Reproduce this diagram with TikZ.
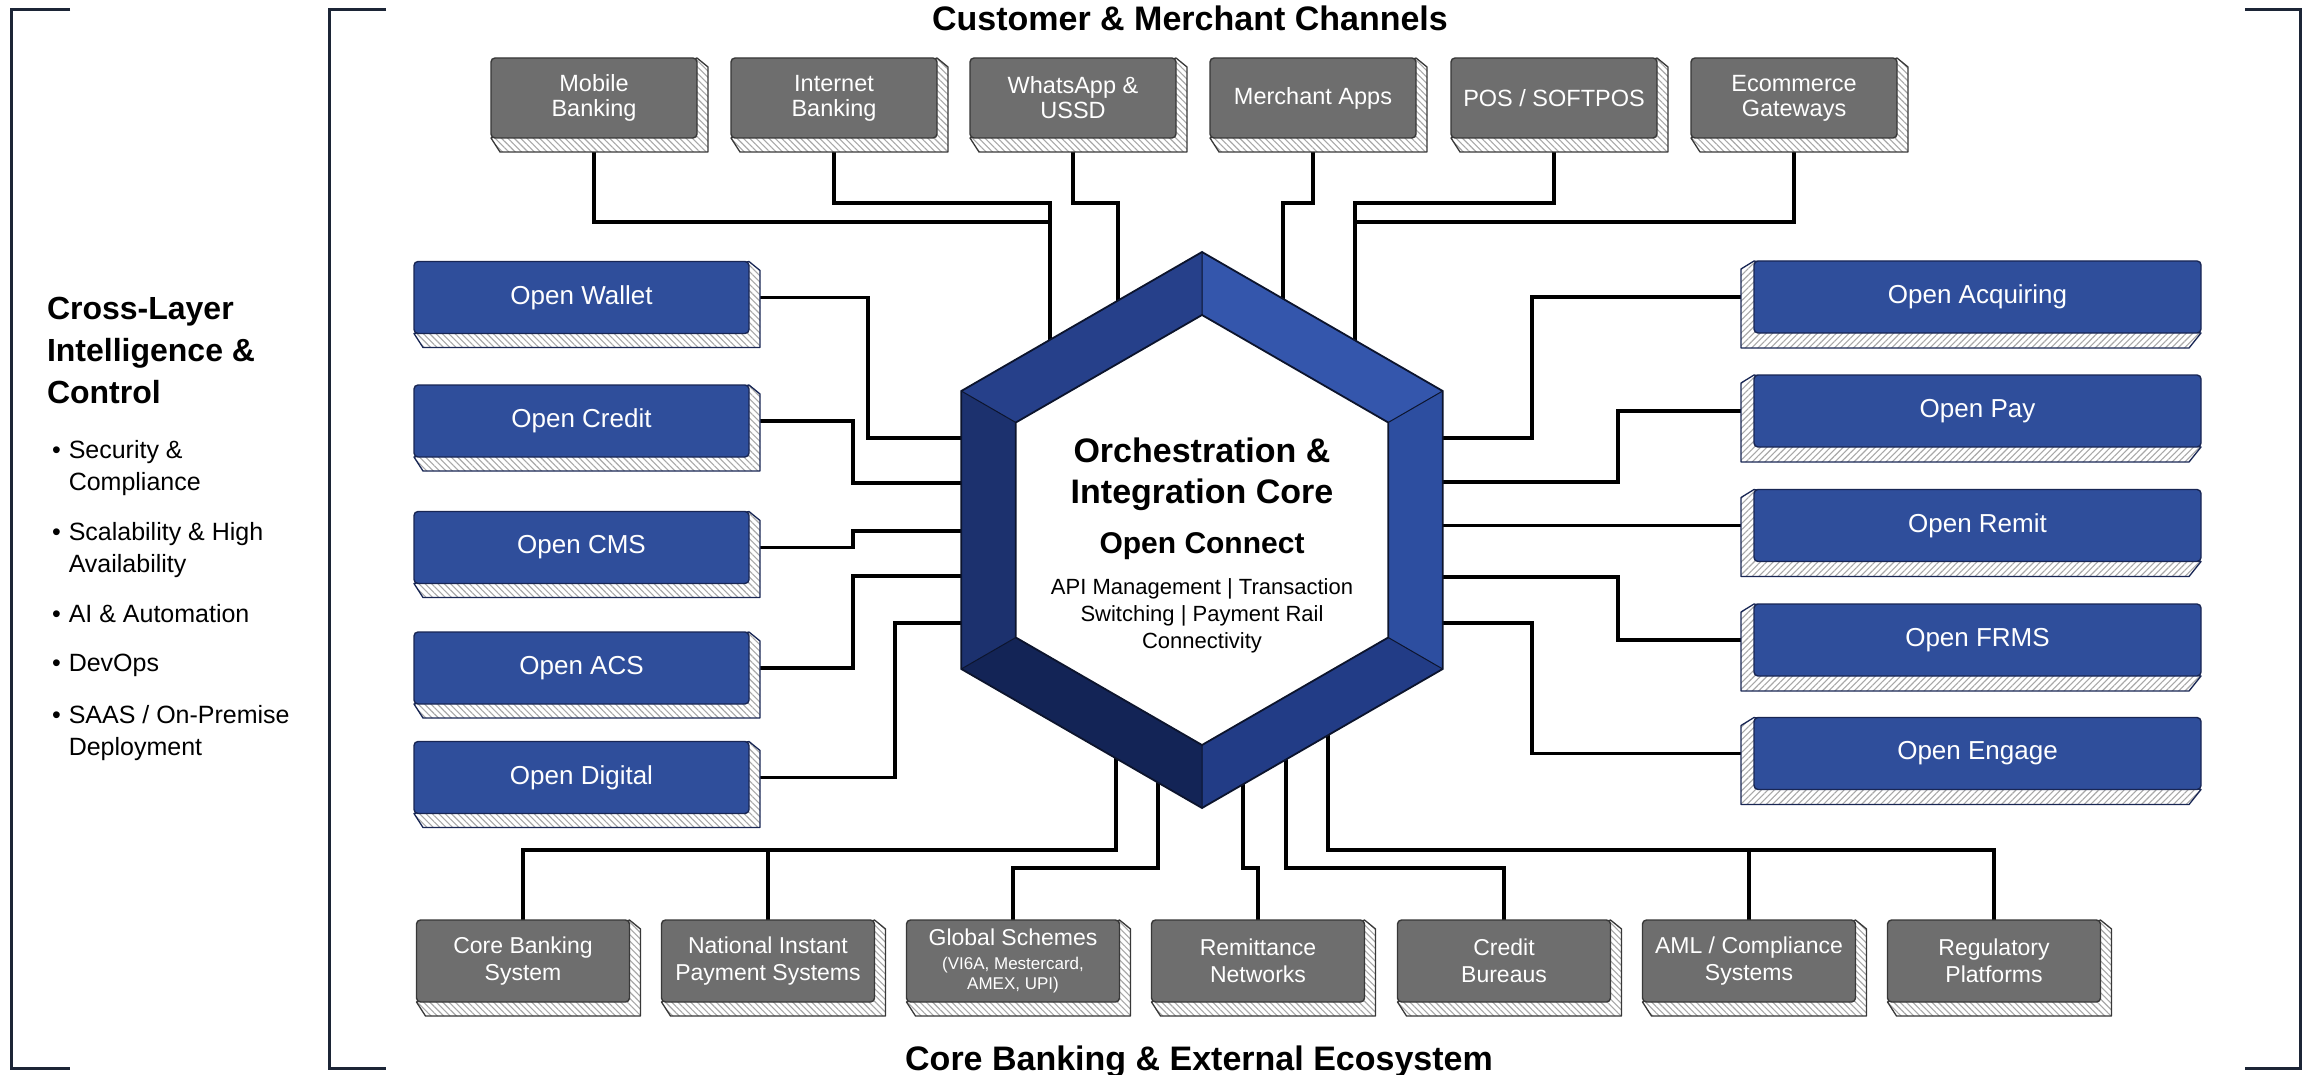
\documentclass[tikz,border=0pt]{standalone}
\usepackage{fontspec}
\setmainfont{Liberation Sans}
\usetikzlibrary{patterns.meta,calc}
\pgfdeclarelayer{paper}\pgfdeclarelayer{lines}\pgfdeclarelayer{bg}
\pgfsetlayers{paper,lines,bg,main}
\definecolor{boxgray}{HTML}{6E6E6E}
\definecolor{grayedge}{HTML}{383838}
\definecolor{boxblue}{RGB}{47,78,155}
\definecolor{blueedge}{RGB}{24,38,84}
\definecolor{hatchc}{HTML}{A8A8A8}
\definecolor{brkc}{HTML}{1C2536}
\definecolor{hexTL}{RGB}{38,64,138}
\definecolor{hexTR}{RGB}{52,86,172}
\definecolor{hexR}{RGB}{45,78,160}
\definecolor{hexBR}{RGB}{34,60,134}
\definecolor{hexBL}{RGB}{19,36,86}
\definecolor{hexL}{RGB}{28,49,110}
\definecolor{hexedge}{RGB}{12,20,45}
\tikzset{
  every node/.style={inner sep=0pt,outer sep=0pt},
  graybox/.style={draw=grayedge,line width=1.4pt,fill=boxgray,rounded corners=4pt,text=white,align=center},
  topbox/.style={graybox,minimum width=206pt,minimum height=80pt,font=\fontsize{23.5}{25}\selectfont},
  botbox/.style={graybox,minimum width=213pt,minimum height=82pt,font=\fontsize{23}{27}\selectfont},
  bluebox/.style={draw=blueedge,line width=1.4pt,fill=boxblue,rounded corners=4pt,text=white,minimum height=72pt,font=\fontsize{26}{30}\selectfont},
  lbox/.style={bluebox,minimum width=335pt},
  rbox/.style={bluebox,minimum width=447pt},
  extr/.style={preaction={fill=white},pattern={Lines[angle=-45,distance=4.5pt,line width=1.1pt]},pattern color=hatchc,line width=1.3pt,line join=round},
  extl/.style={preaction={fill=white},pattern={Lines[angle=45,distance=4.5pt,line width=1.1pt]},pattern color=hatchc,line width=1.3pt,line join=round},
  link/.style={draw=black,line width=3.3pt},
  brk/.style={draw=brkc,line width=3pt,line join=miter},
  ttl/.style={font=\bfseries\fontsize{34}{40}\selectfont},
  bul/.style={font=\fontsize{25}{32}\selectfont,align=left,anchor=north west},
  hexline/.style={draw=hexedge,line width=1.8pt,line join=miter}
}
\newcommand\extR[2]{\begin{pgfonlayer}{bg}\draw[extr,draw=#2] (#1.north east) -- ++(11,9) -- ($(#1.south east)+(11,14)$) -- ($(#1.south west)+(9,14)$) -- (#1.south west) -- cycle;\end{pgfonlayer}}
\newcommand\extL[2]{\begin{pgfonlayer}{bg}\draw[extl,draw=#2] (#1.north west) -- ++(-13,8) -- ($(#1.south west)+(-13,15)$) -- ($(#1.south east)+(-12,15)$) -- (#1.south east) -- cycle;\end{pgfonlayer}}
\begin{document}
\begin{tikzpicture}[x=1pt,y=-1pt]
\useasboundingbox (0,0) rectangle (2310,1075);
\begin{pgfonlayer}{paper}\fill[white] (0,0) rectangle (2310,1075);\end{pgfonlayer}

% brackets
\draw[brk] (70,10) -| (11,1068) -- (70,1068);
\draw[brk] (386,10) -| (329,1068) -- (386,1068);
\draw[brk] (2245,10) -| (2300,1068) -- (2245,1068);

% titles
\node[ttl,anchor=base] (ttop) at (1190,31) {Customer \& Merchant Channels};
\node[ttl,anchor=base] (tbot) at (1199,1070) {Core Banking \& External Ecosystem};

% left panel
\node[font=\bfseries\fontsize{32}{42}\selectfont,align=left,anchor=north west] (clic) at (47,297) {Cross-Layer\\Intelligence \&\\Control};
\node[bul] (b1) at (52,440) {•\hspace{8pt}Security \&\\\phantom{•}\hspace{8pt}Compliance};
\node[bul] (b2) at (52,522) {•\hspace{8pt}Scalability \& High\\\phantom{•}\hspace{8pt}Availability};
\node[bul] (b3) at (52,604) {•\hspace{8pt}AI \& Automation};
\node[bul] (b4) at (52,654) {•\hspace{8pt}DevOps};
\node[bul] (b5) at (52,705) {•\hspace{8pt}SAAS / On-Premise\\\phantom{•}\hspace{8pt}Deployment};

% top channel boxes
\node[topbox] (mob) at (594,98) {Mobile\\Banking};
\node[topbox] (inb) at (834,98) {Internet\\Banking};
\node[topbox] (wus) at (1073,98) {WhatsApp \&\\USSD};
\node[topbox] (mer) at (1313,98) {Merchant Apps};
\node[topbox] (pos) at (1554,98) {POS / SOFTPOS};
\node[topbox] (eco) at (1794,98) {Ecommerce\\Gateways};
\foreach \n in {mob,inb,wus,mer,pos,eco} {\extR{\n}{grayedge}}

% left product boxes
\node[lbox] (owal) at (581.5,297.5) {Open Wallet};
\node[lbox] (ocre) at (581.5,421) {Open Credit};
\node[lbox] (ocms) at (581.5,547.5) {Open CMS};
\node[lbox] (oacs) at (581.5,668) {Open ACS};
\node[lbox] (odig) at (581.5,777.5) {Open Digital};
\foreach \n in {owal,ocre,ocms,oacs,odig} {\extR{\n}{blueedge}}

% right product boxes
\node[rbox] (oacq) at (1977.5,297) {Open Acquiring};
\node[rbox] (opay) at (1977.5,411) {Open Pay};
\node[rbox] (orem) at (1977.5,525.5) {Open Remit};
\node[rbox] (ofrm) at (1977.5,640) {Open FRMS};
\node[rbox] (oeng) at (1977.5,753.5) {Open Engage};
\foreach \n in {oacq,opay,orem,ofrm,oeng} {\extL{\n}{blueedge}}

% bottom ecosystem boxes
\node[botbox] (cbs) at (523,961) {Core Banking\\System};
\node[botbox] (nip) at (768,961) {National Instant\\Payment Systems};
\node[botbox] (gsc) at (1013,961) {Global Schemes\\[-3pt]{\fontsize{17}{20}\selectfont (VI6A, Mestercard,}\\[-7pt]{\fontsize{17}{20}\selectfont AMEX, UPI)}};
\node[botbox] (rem) at (1258,961) {Remittance\\Networks};
\node[botbox] (crb) at (1504,961) {Credit\\Bureaus};
\node[botbox] (aml) at (1749,961) {AML / Compliance\\Systems};
\node[botbox] (reg) at (1994,961) {Regulatory\\Platforms};
\foreach \n in {cbs,nip,gsc,rem,crb,aml,reg} {\extR{\n}{grayedge}}

% hexagon core
\coordinate (hc) at (1202,530);
\coordinate (o1) at (1202,252);   \coordinate (o2) at (1442.7,391);
\coordinate (o3) at (1442.7,669); \coordinate (o4) at (1202,808);
\coordinate (o5) at (961.3,669);  \coordinate (o6) at (961.3,391);
\coordinate (i1) at (1202,315);   \coordinate (i2) at (1388.2,422.5);
\coordinate (i3) at (1388.2,637.5); \coordinate (i4) at (1202,745);
\coordinate (i5) at (1015.8,637.5); \coordinate (i6) at (1015.8,422.5);
\fill[hexTR] (o1)--(o2)--(i2)--(i1)--cycle;
\fill[hexR]  (o2)--(o3)--(i3)--(i2)--cycle;
\fill[hexBR] (o3)--(o4)--(i4)--(i3)--cycle;
\fill[hexBL] (o4)--(o5)--(i5)--(i4)--cycle;
\fill[hexL]  (o5)--(o6)--(i6)--(i5)--cycle;
\fill[hexTL] (o6)--(o1)--(i1)--(i6)--cycle;
\fill[white] (i1)--(i2)--(i3)--(i4)--(i5)--(i6)--cycle;
\draw[hexline] (o1)--(o2)--(o3)--(o4)--(o5)--(o6)--cycle;
\draw[hexline] (i1)--(i2)--(i3)--(i4)--(i5)--(i6)--cycle;
\draw[hexline,line width=1pt] (o1)--(i1) (o2)--(i2) (o3)--(i3) (o4)--(i4) (o5)--(i5) (o6)--(i6);

\node[font=\bfseries\fontsize{34}{41}\selectfont,align=center,anchor=north] (core1) at (1202,438) {Orchestration \&\\Integration Core};
\node[font=\bfseries\fontsize{30}{36}\selectfont,anchor=base] (core2) at (1202,553) {Open Connect};
\node[font=\fontsize{22}{27}\selectfont,align=center,anchor=north] (core3) at (1202,579) {API Management | Transaction\\Switching | Payment Rail\\Connectivity};

% connectors
\begin{pgfonlayer}{lines}
\draw[link] (mob.south) |- (1050,222);
\draw[link] (inb.south) |- (1050,203) |- (hc);
\draw[link] (wus.south) |- (1118,203) |- (hc);
\draw[link] (mer.south) |- (1283,203) |- (hc);
\draw[link] (pos.south) |- (1355,203) |- (hc);
\draw[link] (eco.south) |- (1355,222);

\draw[link] (owal.east) -| (868,438) -| (hc);
\draw[link] (ocre.east) -| (853,483) -| (hc);
\draw[link] (ocms.east) -| (853,531) -| (hc);
\draw[link] (oacs.east) -| (853,576) -| (hc);
\draw[link] (odig.east) -| (895,623) -| (hc);

\draw[link] (oacq.west) -| (1532,438) -| (hc);
\draw[link] (opay.west) -| (1618,482) -| (hc);
\draw[link] (orem.west) -| (hc);
\draw[link] (ofrm.west) -| (1618,577) -| (hc);
\draw[link] (oeng.west) -| (1532,623) -| (hc);

\draw[link] (cbs.north) |- (1116,850) |- (hc);
\draw[link] (nip.north) |- (1116,850);
\draw[link] (gsc.north) |- (1158,868) |- (hc);
\draw[link] (rem.north) |- (1243,868) |- (hc);
\draw[link] (crb.north) |- (1286,868) |- (hc);
\draw[link] (aml.north) |- (1328,850);
\draw[link] (reg.north) |- (1328,850) |- (hc);
\end{pgfonlayer}
\end{tikzpicture}
\end{document}
